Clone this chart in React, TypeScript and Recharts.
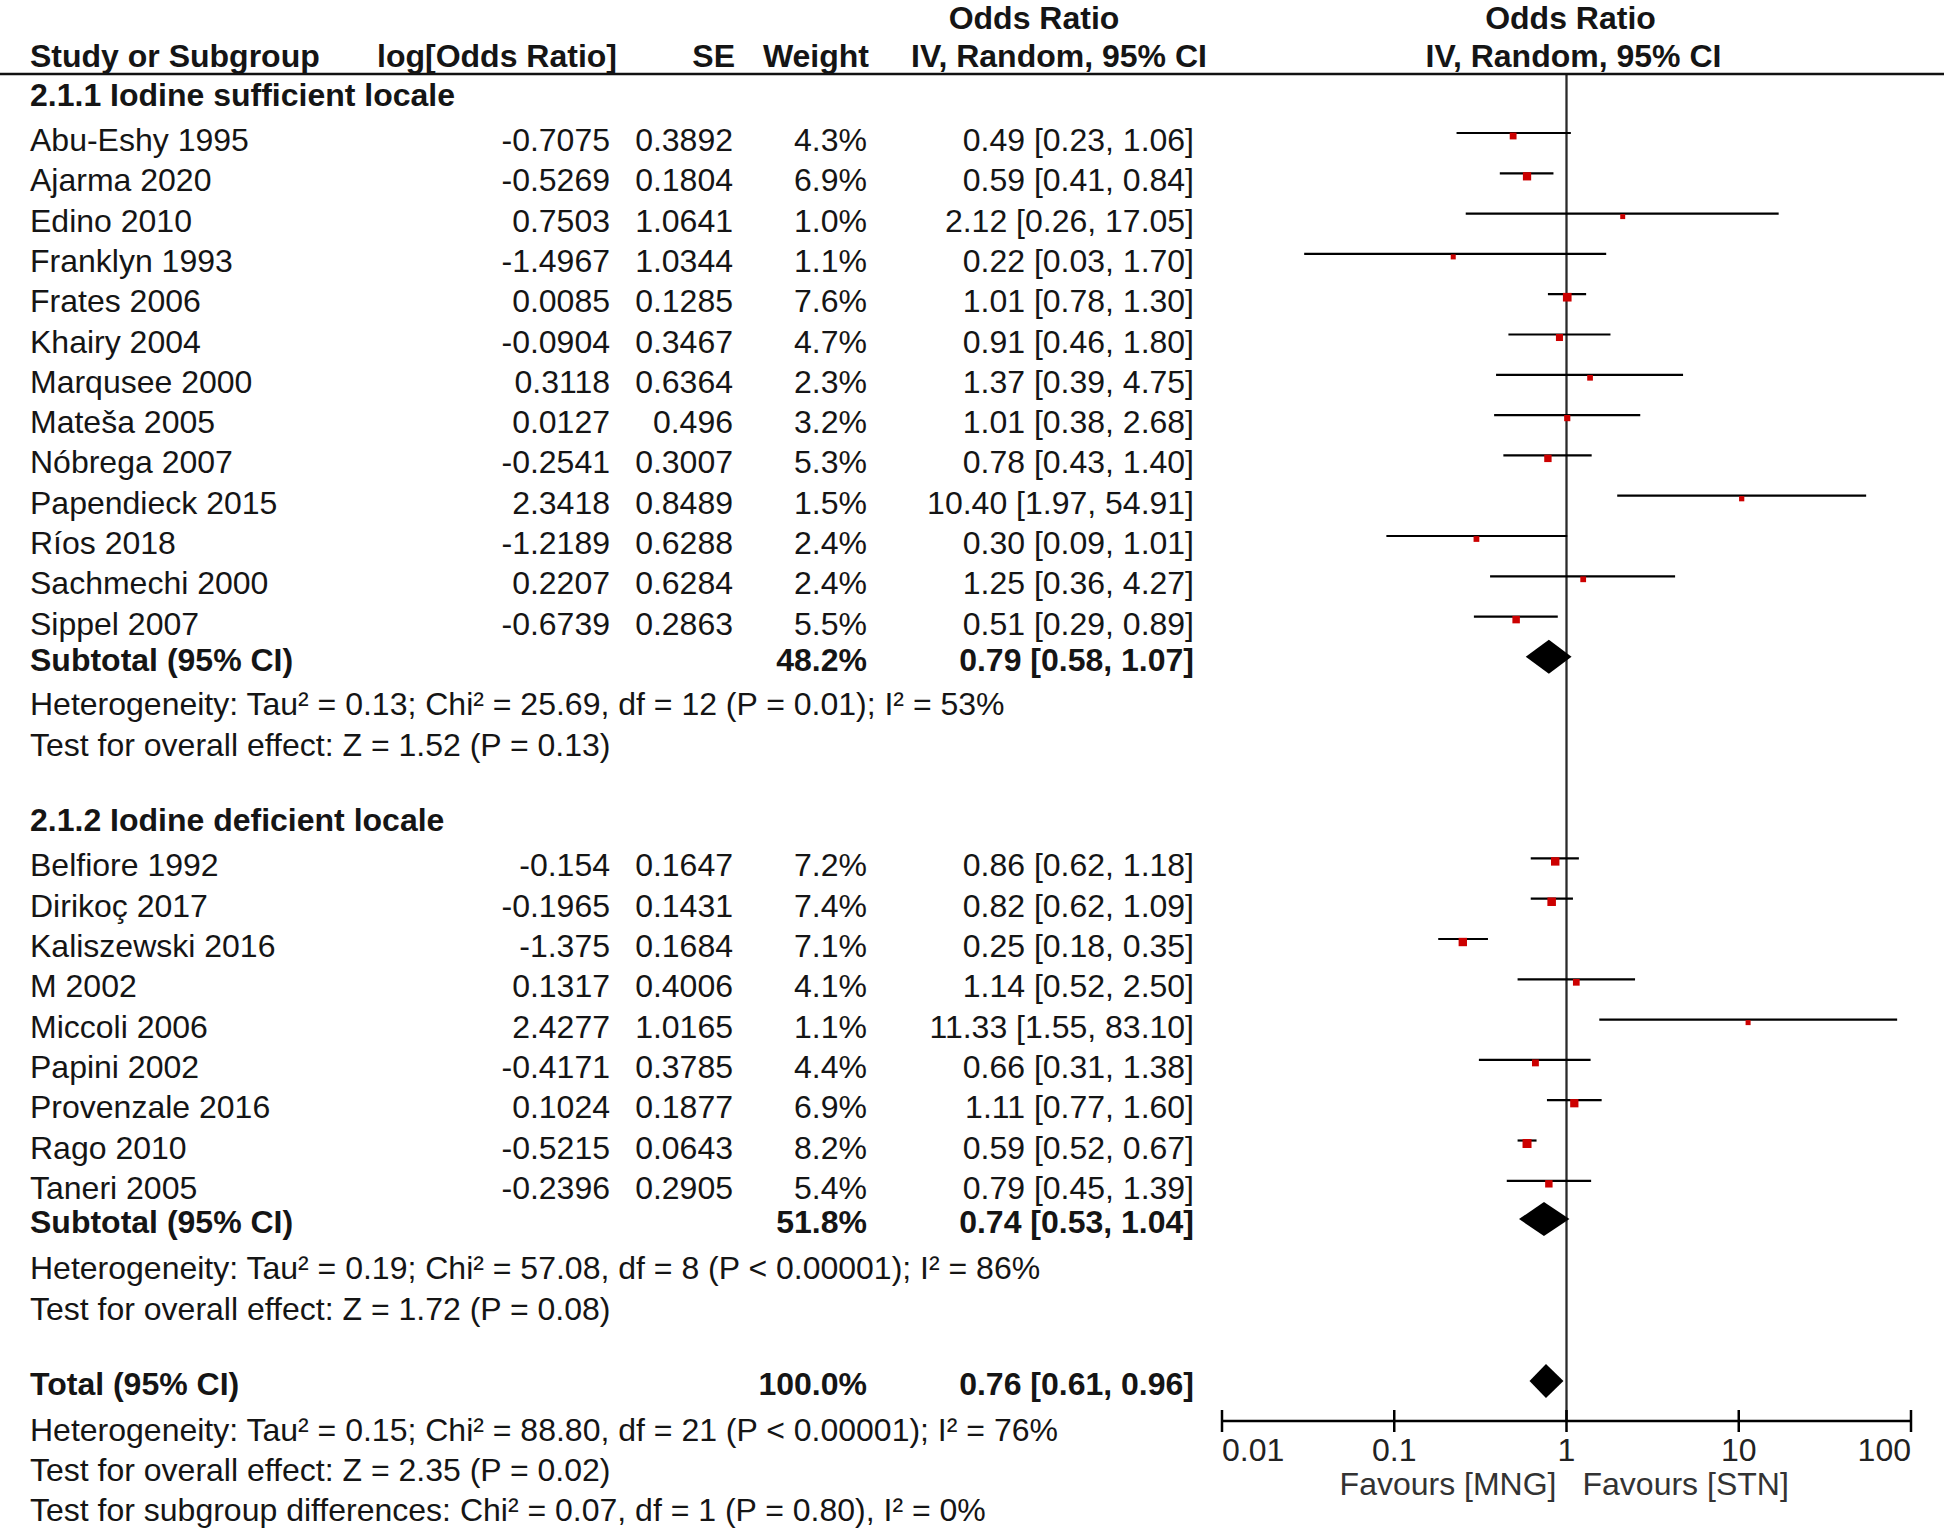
import React from "react";
import {
  ComposedChart,
  Scatter,
  ErrorBar,
  XAxis,
  YAxis,
  ReferenceLine,
  ReferenceDot,
} from "recharts";

// 2.1.1 Iodine sufficient locale
const group1Title = "2.1.1 Iodine sufficient locale";
const names1 = [
  "Abu-Eshy 1995", "Ajarma 2020", "Edino 2010", "Franklyn 1993", "Frates 2006",
  "Khairy 2004", "Marqusee 2000", "Mateša 2005", "Nóbrega 2007", "Papendieck 2015",
  "Ríos 2018", "Sachmechi 2000", "Sippel 2007",
];
const logOr1 = [-0.7075, -0.5269, 0.7503, -1.4967, 0.0085, -0.0904, 0.3118, 0.0127, -0.2541, 2.3418, -1.2189, 0.2207, -0.6739];
const se1 = [0.3892, 0.1804, 1.0641, 1.0344, 0.1285, 0.3467, 0.6364, 0.496, 0.3007, 0.8489, 0.6288, 0.6284, 0.2863];
const weight1 = [4.3, 6.9, 1.0, 1.1, 7.6, 4.7, 2.3, 3.2, 5.3, 1.5, 2.4, 2.4, 5.5];
const or1 = [0.49, 0.59, 2.12, 0.22, 1.01, 0.91, 1.37, 1.01, 0.78, 10.4, 0.3, 1.25, 0.51];
const lo1 = [0.23, 0.41, 0.26, 0.03, 0.78, 0.46, 0.39, 0.38, 0.43, 1.97, 0.09, 0.36, 0.29];
const hi1 = [1.06, 0.84, 17.05, 1.7, 1.3, 1.8, 4.75, 2.68, 1.4, 54.91, 1.01, 4.27, 0.89];

// 2.1.2 Iodine deficient locale
const group2Title = "2.1.2 Iodine deficient locale";
const names2 = [
  "Belfiore 1992", "Dirikoç 2017", "Kaliszewski 2016", "M 2002", "Miccoli 2006",
  "Papini 2002", "Provenzale 2016", "Rago 2010", "Taneri 2005",
];
const logOr2 = [-0.154, -0.1965, -1.375, 0.1317, 2.4277, -0.4171, 0.1024, -0.5215, -0.2396];
const se2 = [0.1647, 0.1431, 0.1684, 0.4006, 1.0165, 0.3785, 0.1877, 0.0643, 0.2905];
const weight2 = [7.2, 7.4, 7.1, 4.1, 1.1, 4.4, 6.9, 8.2, 5.4];
const or2 = [0.86, 0.82, 0.25, 1.14, 11.33, 0.66, 1.11, 0.59, 0.79];
const lo2 = [0.62, 0.62, 0.18, 0.52, 1.55, 0.31, 0.77, 0.52, 0.45];
const hi2 = [1.18, 1.09, 0.35, 2.5, 83.1, 1.38, 1.6, 0.67, 1.39];

// pooled estimates: subtotal 1, subtotal 2, total
const pooledLabels = ["Subtotal (95% CI)", "Subtotal (95% CI)", "Total (95% CI)"];
const pooledOr = [0.79, 0.74, 0.76];
const pooledLo = [0.58, 0.53, 0.61];
const pooledHi = [1.07, 1.04, 0.96];
const pooledWeight = [48.2, 51.8, 100.0];

const notes1 = [
  "Heterogeneity: Tau² = 0.13; Chi² = 25.69, df = 12 (P = 0.01); I² = 53%",
  "Test for overall effect: Z = 1.52 (P = 0.13)",
];
const notes2 = [
  "Heterogeneity: Tau² = 0.19; Chi² = 57.08, df = 8 (P < 0.00001); I² = 86%",
  "Test for overall effect: Z = 1.72 (P = 0.08)",
];
const notesAll = [
  "Heterogeneity: Tau² = 0.15; Chi² = 88.80, df = 21 (P < 0.00001); I² = 76%",
  "Test for overall effect: Z = 2.35 (P = 0.02)",
  "Test for subgroup differences: Chi² = 0.07, df = 1 (P = 0.80), I² = 0%",
];

const xTicks = [0.01, 0.1, 1, 10, 100];
const xTickLabels = ["0.01", "0.1", "1", "10", "100"];
const favoursLeft = "Favours [MNG]";
const favoursRight = "Favours [STN]";

// row positions (in row units) for the table layout
const ROW = {
  top: -1.464,
  bottom: 31.96,
  headTop: -3.04,
  head: -2.08,
  group1: -1.12,
  first1: 0,
  sub1: 12.9,
  notes1: 14,
  group2: 16.87,
  first2: 18,
  sub2: 26.85,
  notes2: 28,
  total: 30.87,
  notesAll: 32,
  favours: 33.35,
};

const FONT = '"Liberation Sans", Arial, Helvetica, sans-serif';
const INK = "#151515";
const TEXT_DY = 7;
const COL = { name: 30, logOr: 610, se: 733, weight: 867, ci: 1194 };

const fmtCi = (o: number, l: number, h: number) =>
  `${o.toFixed(2)} [${l.toFixed(2)}, ${h.toFixed(2)}]`;

type TableRow = {
  r: number;
  bold?: boolean;
  name: string;
  logOr?: string;
  se?: string;
  weight?: string;
  ci?: string;
};

const studyRows = (names: string[], lor: number[], se: number[], w: number[], o: number[], l: number[], h: number[], start: number): TableRow[] =>
  names.map((n, i) => ({
    r: start + i,
    name: n,
    logOr: String(lor[i]),
    se: String(se[i]),
    weight: `${w[i].toFixed(1)}%`,
    ci: fmtCi(o[i], l[i], h[i]),
  }));

const pooledRow = (k: number, r: number): TableRow => ({
  r,
  bold: true,
  name: pooledLabels[k],
  weight: `${pooledWeight[k].toFixed(1)}%`,
  ci: fmtCi(pooledOr[k], pooledLo[k], pooledHi[k]),
});

const tableRows: TableRow[] = [
  { r: ROW.group1, bold: true, name: group1Title },
  ...studyRows(names1, logOr1, se1, weight1, or1, lo1, hi1, ROW.first1),
  pooledRow(0, ROW.sub1),
  ...notes1.map((n, i) => ({ r: ROW.notes1 + i, name: n })),
  { r: ROW.group2, bold: true, name: group2Title },
  ...studyRows(names2, logOr2, se2, weight2, or2, lo2, hi2, ROW.first2),
  pooledRow(1, ROW.sub2),
  ...notes2.map((n, i) => ({ r: ROW.notes2 + i, name: n })),
  pooledRow(2, ROW.total),
  ...notesAll.map((n, i) => ({ r: ROW.notesAll + i, name: n })),
];

const studyPoints = [
  ...names1.map((_, i) => ({ x: or1[i], y: ROW.first1 + i, err: [or1[i] - lo1[i], hi1[i] - or1[i]], weight: weight1[i] })),
  ...names2.map((_, i) => ({ x: or2[i], y: ROW.first2 + i, err: [or2[i] - lo2[i], hi2[i] - or2[i]], weight: weight2[i] })),
];

const pooledRowsY = [ROW.sub1, ROW.sub2, ROW.total];
const diamonds = pooledOr.map((o, k) => [
  { x: pooledLo[k], y: pooledRowsY[k] },
  { x: o, y: pooledRowsY[k] },
  { x: pooledHi[k], y: pooledRowsY[k] },
]);

const txt = (x: number, y: number, s: string, anchor: string, bold?: boolean, fill = INK) => (
  <text
    x={x}
    y={y}
    textAnchor={anchor as any}
    dominantBaseline="central"
    fontFamily={FONT}
    fontSize={32}
    fontWeight={bold ? 700 : 400}
    fill={fill}
  >
    {s}
  </text>
);

const renderRow = (row: TableRow) => (p: any) => {
  const y = p.cy + TEXT_DY;
  return (
    <g>
      {txt(COL.name, y, row.name, "start", row.bold)}
      {row.logOr && txt(COL.logOr, y, row.logOr, "end")}
      {row.se && txt(COL.se, y, row.se, "end")}
      {row.weight && txt(COL.weight, y, row.weight, "end", row.bold)}
      {row.ci && txt(COL.ci, y, row.ci, "end", row.bold)}
    </g>
  );
};

const renderHeadTop = (p: any) => {
  const y = p.cy + TEXT_DY;
  return (
    <g>
      {txt(1034, y, "Odds Ratio", "middle", true)}
      {txt(p.cx + 4, y, "Odds Ratio", "middle", true)}
    </g>
  );
};

const renderHead = (p: any) => {
  const y = p.cy + TEXT_DY;
  return (
    <g>
      {txt(COL.name, y, "Study or Subgroup", "start", true)}
      {txt(617, y, "log[Odds Ratio]", "end", true)}
      {txt(735, y, "SE", "end", true)}
      {txt(869, y, "Weight", "end", true)}
      {txt(1059, y, "IV, Random, 95% CI", "middle", true)}
      {txt(p.cx + 7, y, "IV, Random, 95% CI", "middle", true)}
    </g>
  );
};

const renderTopRule = (p: any) => (
  <line x1={0} x2={1944} y1={p.cy} y2={p.cy} stroke="#111" strokeWidth={2.4} />
);

const renderFavours = (p: any) => {
  const y = p.cy + TEXT_DY;
  return (
    <g>
      {txt(p.cx - 10, y, favoursLeft, "end", false, "#333")}
      {txt(p.cx + 16, y, favoursRight, "start", false, "#333")}
    </g>
  );
};

const StudyMarker = (p: any) => {
  const s = 4.4 + 0.56 * p.payload.weight;
  return <rect x={p.cx - s / 2} y={p.cy + 3 - s / 2} width={s} height={s} fill="#cc0000" />;
};

const DiamondLine = (p: any) => {
  const pts = p.points;
  if (!pts || pts.length < 3) return <g />;
  const y = pts[0].y + 4;
  const h = 17;
  return (
    <polygon
      points={`${pts[0].x},${y} ${pts[1].x},${y - h} ${pts[2].x},${y} ${pts[1].x},${y + h}`}
      fill="#000"
    />
  );
};

const AxisTick = (props: any) => {
  const { x, y, index } = props;
  const last = xTicks.length - 1;
  const anchor = index === 0 ? "start" : index === last ? "end" : "middle";
  return (
    <g>
      <line x1={x} x2={x} y1={y - 11} y2={y + 11} stroke="#000" strokeWidth={2.5} />
      <text x={x} y={y + 29} textAnchor={anchor} dominantBaseline="central" fontFamily={FONT} fontSize={32} fill="#222">
        {xTickLabels[index]}
      </text>
    </g>
  );
};

export default function App() {
  return (
    <div style={{ width: 1944, height: 1528, background: "#fff" }}>
      <style>{"body{margin:0;background:#fff}"}</style>
      <ComposedChart width={1944} height={1528} margin={{ top: 74, right: 33, bottom: 0, left: 1222 }}>
        <XAxis
          dataKey="x"
          type="number"
          scale="log"
          domain={[0.01, 100]}
          ticks={xTicks}
          interval={0}
          allowDataOverflow
          height={107}
          tickSize={0}
          tickMargin={0}
          tickLine={false}
          axisLine={{ stroke: "#000", strokeWidth: 2.5 }}
          tick={<AxisTick />}
        />
        <YAxis dataKey="y" type="number" hide reversed allowDataOverflow domain={[ROW.top, ROW.bottom]} />
        <ReferenceLine x={1} stroke="#2a2a2a" strokeWidth={2.3} />
        <Scatter data={studyPoints} shape={<StudyMarker />} isAnimationActive={false}>
          <ErrorBar dataKey="err" direction="x" width={0} stroke="#000" strokeWidth={2.2} />
        </Scatter>
        {diamonds.map((d, k) => (
          <Scatter
            key={k}
            data={d}
            shape={() => <g />}
            line={DiamondLine as any}
            lineType="joint"
            isAnimationActive={false}
          />
        ))}
        <ReferenceDot x={1} y={ROW.top} ifOverflow="visible" shape={renderTopRule} />
        <ReferenceDot x={1} y={ROW.headTop} ifOverflow="visible" shape={renderHeadTop} />
        <ReferenceDot x={1} y={ROW.head} ifOverflow="visible" shape={renderHead} />
        {tableRows.map((row, i) => (
          <ReferenceDot key={i} x={1} y={row.r} ifOverflow="visible" shape={renderRow(row)} />
        ))}
        <ReferenceDot x={1} y={ROW.favours} ifOverflow="visible" shape={renderFavours} />
      </ComposedChart>
    </div>
  );
}
